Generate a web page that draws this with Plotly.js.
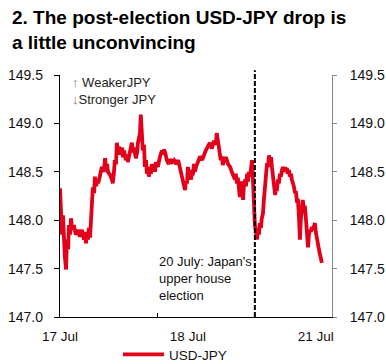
<!DOCTYPE html>
<html><head><meta charset="utf-8">
<script src="https://cdn.plot.ly/plotly-3.0.1.min.js"></script>
<style>html,body{margin:0;padding:0;background:#fff;}#chart{width:386px;height:364px;}</style>
</head><body><div id="chart"></div>
<script>
// hours of trading time since 17 Jul 00:00 (weekend removed)
const hours = [0,0.25,0.5,0.74,1.0,1.2,1.5,1.7,2.0,2.2,2.5,2.7,3.0,3.4,3.9,4.4,4.9,5.4,5.9,6.2,6.4,6.6,6.9,7.1,7.4,7.6,7.9,8.1,8.4,8.6,8.9,9.1,9.4,9.8,10.3,10.8,11.1,11.3,11.6,11.8,12.3,12.8,13.0,13.3,13.5,13.8,14.0,14.3,14.5,14.8,15.3,15.5,15.8,16.2,16.5,16.7,17.2,17.7,18.0,18.2,18.7,19.0,19.2,19.5,19.7,19.9,20.2,20.4,20.7,20.9,21.2,21.4,21.7,21.9,22.2,22.4,22.6,22.9,23.1,23.4,23.6,24.1,24.6,25.1,25.4,25.6,25.9,26.1,26.3,26.8,27.1,27.6,28.1,28.6,29.1,29.5,30.0,30.3,30.5,30.8,31.0,31.3,31.5,31.8,32.0,32.3,32.5,32.7,33.0,33.2,33.5,34.0,34.5,35.0,35.5,35.9,36.4,36.9,37.4,37.9,38.4,38.6,38.9,39.1,39.4,39.6,39.9,40.1,40.4,40.9,41.4,41.9,42.3,42.8,43.1,43.3,43.6,43.8,44.1,44.3,44.6,44.8,45.1,45.3,45.6,45.8,46.1,46.3,46.5,46.8,47.0,47.3,47.5,47.8,48.0,48.3,48.5,48.8,49.0,49.2,49.5,49.7,50.0,50.2,50.5,50.7,51.0,51.2,51.5,51.7,52.0,52.2,52.5,52.7,53.0,53.2,53.4,53.7,53.9,54.2,54.4,54.7,54.9,55.2,55.4,55.6,55.9,56.1,56.4,56.6,56.9,57.1,57.4,57.6,57.9,58.1,58.4,58.6,58.9,59.1,59.3,59.6,59.8,60.1,60.3,60.6,60.8,61.1,61.3,61.6,61.8,62.0,62.3,62.5,62.8,63.0,63.3,63.5,63.8,64.0,64.3,64.5];
const usdjpy = [148.33,148.10,147.85,148.05,147.75,147.62,147.49,147.80,147.70,147.95,147.85,148.02,147.90,147.95,147.85,147.90,147.83,147.90,147.80,147.88,147.76,147.85,147.80,147.92,147.82,148.05,148.20,148.34,148.28,148.45,148.35,148.42,148.38,148.45,148.55,148.50,148.64,148.55,148.58,148.50,148.47,148.42,148.38,148.50,148.62,148.58,148.80,148.70,148.76,148.68,148.75,148.65,148.72,148.62,148.68,148.60,148.70,148.80,148.70,148.75,148.64,148.70,148.80,148.85,148.90,149.09,148.90,148.72,148.78,148.55,148.62,148.48,148.52,148.45,148.55,148.48,148.58,148.50,148.58,148.50,148.60,148.55,148.65,148.72,148.68,148.73,148.70,148.66,148.62,148.58,148.63,148.60,148.62,148.58,148.62,148.55,148.45,148.40,148.35,148.31,148.40,148.38,148.55,148.45,148.48,148.42,148.52,148.46,148.58,148.50,148.55,148.62,148.66,148.62,148.69,148.72,148.76,148.80,148.74,148.82,148.78,148.90,148.82,148.75,148.70,148.62,148.66,148.57,148.62,148.65,148.58,148.55,148.50,148.45,148.42,148.48,148.38,148.44,148.30,148.24,148.40,148.28,148.21,148.36,148.42,148.35,148.48,148.40,148.50,148.45,148.55,148.62,148.45,148.10,147.95,147.88,147.80,147.90,147.85,147.97,147.92,148.02,148.07,148.20,148.35,148.48,148.59,148.55,148.67,148.60,148.65,148.55,148.45,148.38,148.26,148.35,148.30,148.42,148.38,148.48,148.45,148.52,148.55,148.50,148.55,148.50,148.54,148.48,148.52,148.45,148.48,148.42,148.38,148.35,148.28,148.30,148.18,148.22,148.00,147.80,148.00,148.12,148.21,148.10,148.15,148.00,147.90,147.72,147.85,147.90,147.88,147.93,147.90,147.95,147.97,147.88,147.80,147.76,147.70,147.65,147.60,147.56];
const xTickVals = [0, 31.5, 63];
const xTickText = ['17 Jul', '18 Jul', '21 Jul'];
const dayBoundary = [24];
const electionX = [48];
const yTicks = [147.0, 147.5, 148.0, 148.5, 149.0, 149.5];

const FONT = 'Liberation Sans, Arial, sans-serif';
const traces = [
  {x: hours, y: usdjpy, type: 'scatter', mode: 'lines', name: 'USD-JPY',
   line: {color: '#e2001a', width: 3.8}, hoverinfo: 'skip'},
  {x: hours, y: usdjpy, type: 'scatter', mode: 'lines', yaxis: 'y2', showlegend: false,
   line: {color: 'rgba(0,0,0,0)', width: 0}, hoverinfo: 'skip'}
];
const layout = {
  width: 386, height: 364,
  margin: {l: 60, r: 54, t: 75, b: 47, autoexpand: false},
  paper_bgcolor: '#fff', plot_bgcolor: '#fff',
  font: {family: FONT, size: 13, color: '#111'},
  xaxis: {range: [0, 67], showgrid: false, zeroline: false,
          showline: true, linecolor: '#000', linewidth: 1.2,
          tickmode: 'array', tickvals: xTickVals, ticktext: xTickText, ticks: '',
          ticklabelstandoff: 7,
          tickfont: {size: 13.5, color: '#111'},
          minor: {tickmode: 'array', tickvals: dayBoundary, ticks: 'inside', ticklen: 4, tickcolor: '#000', tickwidth: 1, showgrid: false}},
  yaxis: {range: [147, 149.5], tickvals: yTicks, tickformat: '.1f', showgrid: false, zeroline: false,
          showline: true, linecolor: '#000', linewidth: 1.2, ticks: 'outside', ticklen: 5, tickcolor: '#000',
          ticklabelstandoff: 8, tickfont: {size: 14, color: '#111'}},
  yaxis2: {range: [147, 149.5], tickvals: yTicks, tickformat: '.1f', overlaying: 'y', side: 'right',
           showgrid: false, zeroline: false, showline: true, linecolor: '#888', linewidth: 1,
           ticks: 'outside', ticklen: 4, tickcolor: '#888', ticklabelstandoff: 10,
           tickfont: {size: 14, color: '#111'}},
  showlegend: true,
  legend: {orientation: 'h', x: 0.213, xanchor: 'left', y: -0.155, yanchor: 'middle', itemwidth: 41,
           font: {size: 13.5, color: '#111'}, bgcolor: 'rgba(0,0,0,0)', borderwidth: 0},
  shapes: electionX.map(v => ({type: 'line', xref: 'x', yref: 'paper', x0: v, x1: v, y0: 0, y1: 1.02,
                              line: {color: '#000', width: 2, dash: '5px,2px'}})),
  annotations: [
    {text: '<b>2. The post-election USD-JPY drop is<br>a little unconvincing</b>', xref: 'paper', yref: 'paper',
     x: -50/272, y: 1.289, xanchor: 'left', yanchor: 'top', align: 'left', showarrow: false,
     font: {family: FONT, size: 19, color: '#000'}},
    {text: '<span style="color:#777">↑</span> WeakerJPY<br><span style="color:#777">↓</span>Stronger JPY', xref: 'paper', yref: 'paper', x: 10/272, y: 1.01,
     xanchor: 'left', yanchor: 'top', align: 'left', showarrow: false, font: {size: 13, color: '#222'}},
    {text: '20 July: Japan\'s<br>upper house<br>election', xref: 'paper', yref: 'paper', x: 97/272, y: 0.268,
     xanchor: 'left', yanchor: 'top', align: 'left', showarrow: false, font: {size: 13, color: '#111'}}
  ]
};
Plotly.newPlot('chart', traces, layout, {displayModeBar: false, staticPlot: true});
</script></body></html>
